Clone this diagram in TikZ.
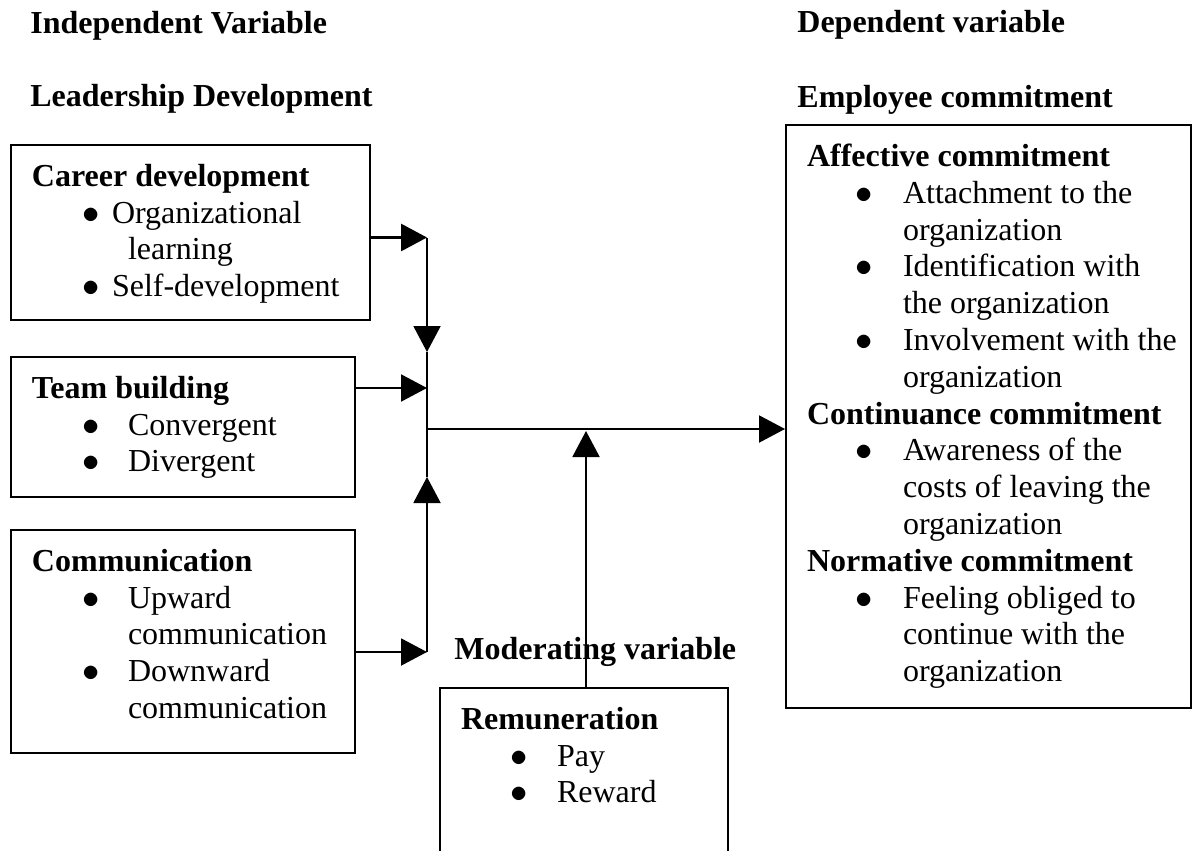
\documentclass[tikz,border=0pt]{standalone}
\usepackage{fontspec}
\setmainfont{Liberation Serif}
\usetikzlibrary{positioning,arrows.meta}

\tikzset{
	head/.style={font=\fontsize{16}{18.4}\selectfont\bfseries, inner sep=0pt, anchor=base west},
	varbox/.style={draw, line width=1pt, inner xsep=10.5pt, inner ysep=9.5pt, anchor=north west, font=\fontsize{16}{18.4}\selectfont},
	flow/.style={line width=1pt, -{Triangle[length=13pt,width=13.5pt]}},
}

\newcommand{\boxbody}[3]{\begin{minipage}[t][#2][t]{#1}#3\end{minipage}}
\newcommand{\itm}[3]{\hspace*{#1}\makebox[#2][l]{$\bullet$}\mbox{#3}}
\newcommand{\more}[1]{\hspace*{48pt}\mbox{#1}}

\begin{document}
\begin{tikzpicture}[x=0.5pt,y=-0.5pt]
	\fill[white] (0,0) rectangle (1192,850);
	\useasboundingbox (0,0) rectangle (1192,850);
	\clip (0,0) rectangle (1192,850);

	\node[head] (indep) at (30,34) {Independent Variable};
	\node[head] (leader) [below=36.5pt of indep.base west, anchor=base west] {Leadership Development};
	\node[head] (dep) at (797,33) {Dependent variable};
	\node[head] (emphead) [below=37.5pt of dep.base west, anchor=base west] {Employee commitment};

	\node[varbox] (career) at (10,144) {\boxbody{158.5pt}{68.5pt}{\textbf{Career development}\\
		\itm{25pt}{15pt}{Organizational}\\
		\more{learning}\\
		\itm{25pt}{15pt}{Self-development}}};
	\node[varbox] (team) [below=17.5pt of career.south west, anchor=north west] {\boxbody{151pt}{51pt}{\textbf{Team building}\\
		\itm{25pt}{23pt}{Convergent}\\
		\itm{25pt}{23pt}{Divergent}}};
	\node[varbox] (comm) [below=15.5pt of team.south west, anchor=north west] {\boxbody{151pt}{92.5pt}{\textbf{Communication}\\
		\itm{25pt}{23pt}{Upward}\\
		\more{communication}\\
		\itm{25pt}{23pt}{Downward}\\
		\more{communication}}};

	\node[varbox] (emp) at (785,124) {\boxbody{181.5pt}{272.5pt}{\textbf{Affective commitment}\\
		\itm{24pt}{24pt}{Attachment to the}\\
		\more{organization}\\
		\itm{24pt}{24pt}{Identification with}\\
		\more{the organization}\\
		\itm{24pt}{24pt}{Involvement with the}\\
		\more{organization}\\
		\textbf{Continuance commitment}\\
		\itm{24pt}{24pt}{Awareness of the}\\
		\more{costs of leaving the}\\
		\more{organization}\\
		\textbf{Normative commitment}\\
		\itm{24pt}{24pt}{Feeling obliged to}\\
		\more{continue with the}\\
		\more{organization}}};

	\node[head] (modhead) at (454,659) {Moderating variable};
	\node[varbox] (remun) at (439,687) {\boxbody{123pt}{76pt}{\textbf{Remuneration}\\
		\itm{24.5pt}{23.5pt}{Pay}\\
		\itm{24.5pt}{23.5pt}{Reward}}};

	\coordinate (jtop) at (427,237.5);
	\coordinate (jdown) at (427,352);
	\coordinate (jteam) at (427,388);
	\coordinate (hub) at (427,429);
	\coordinate (jup) at (427,477);
	\coordinate (jbot) at (427,652);
	\coordinate (modtip) at (586,431);

	\draw[flow, line width=1.5pt] (career.east |- jtop) -- (jtop);
	\draw[flow] (jtop) -- (jdown);
	\draw[line width=1pt] (jdown) -- (jup);
	\draw[flow] (jbot) -- (jup);
	\draw[flow] (team.east |- jteam) -- (jteam);
	\draw[flow] (comm.east |- jbot) -- (jbot);
	\draw[flow] (hub) -- (emp.west |- hub);
	\draw[flow] (modtip |- remun.north) -- (modtip);

\end{tikzpicture}
\end{document}
